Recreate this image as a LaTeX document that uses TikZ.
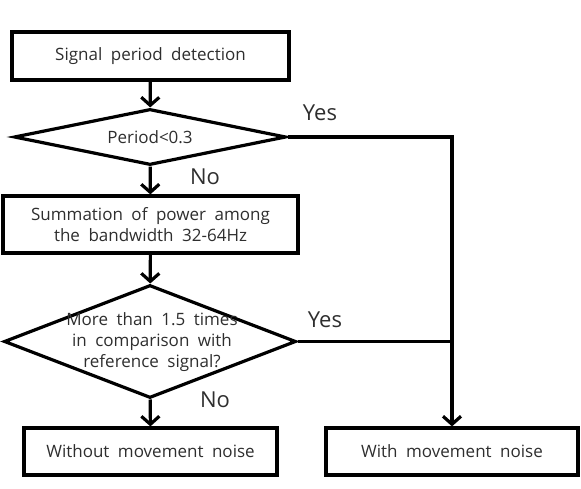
\documentclass[tikz,border=0pt]{standalone}
\usepackage{fontspec}
\setmainfont{Open Sans}
\usetikzlibrary{arrows.meta,shapes.geometric}
\definecolor{ink}{HTML}{2e2e2e}
\newcommand{\wide}{\spaceskip=0.5em plus 0.1em\relax}

\begin{document}
\begin{tikzpicture}[>={Straight Barb[length=8pt,width=18pt]},x=1pt,y=-1pt,
  box/.style={draw,line width=3.2pt,rectangle,inner sep=0pt,text=ink,
    font=\fontsize{17}{21}\selectfont\wide,align=center},
  dec/.style={draw,line width=3.2pt,diamond,inner sep=0pt},
  txt/.style={text=ink,font=\fontsize{17}{21}\selectfont\wide,align=center},
  yn/.style={text=ink,font=\fontsize{22}{25}\selectfont},
  flow/.style={->,line width=3.2pt}]
  \useasboundingbox (0,0) rectangle (581,489);
  % left column
  \node[box,minimum width=277pt,minimum height=48pt] (det) at (150.5,56) {Signal period detection};
  \node[dec,minimum width=272pt,minimum height=56pt] (dec1) at (150,137) {};
  \node[txt] (dec1t) at (dec1) {Period<0.3};
  \node[box,minimum width=295pt,minimum height=57pt] (sum) at (150.5,224.5)
    {Summation of power among\\the bandwidth 32-64Hz};
  \node[dec,minimum width=292pt,minimum height=113pt] (dec2) at (150,341.5) {};
  \node[txt] (dec2t) at (152,342) {More than 1.5 times\\in comparison with\\reference signal?};
  \node[box,minimum width=253pt,minimum height=47pt] (without) at (150.5,451.5) {Without movement noise};
  % right column
  \node[box,minimum width=252pt,minimum height=47pt] (with) at (452,451.5) {With movement noise};
  \coordinate (j1) at (with.north |- dec1.east);
  \coordinate (j2) at (with.north |- dec2.east);
  % connectors
  \draw[flow] (det) -- (dec1);
  \draw[flow] (dec1) -- (sum);
  \draw[flow] (sum) -- (dec2);
  \draw[flow] (dec2) -- (without);
  \draw[flow] (dec1.east) -- (j1) -- (with.north);
  \draw[line width=3.2pt] (dec2.east) -- (j2);
  % labels
  \node[yn] (yes1) at (320,113) {Yes};
  \node[yn] (no1) at (205,177) {No};
  \node[yn] (yes2) at (325,320) {Yes};
  \node[yn] (no2) at (215,400) {No};
\end{tikzpicture}
\end{document}
